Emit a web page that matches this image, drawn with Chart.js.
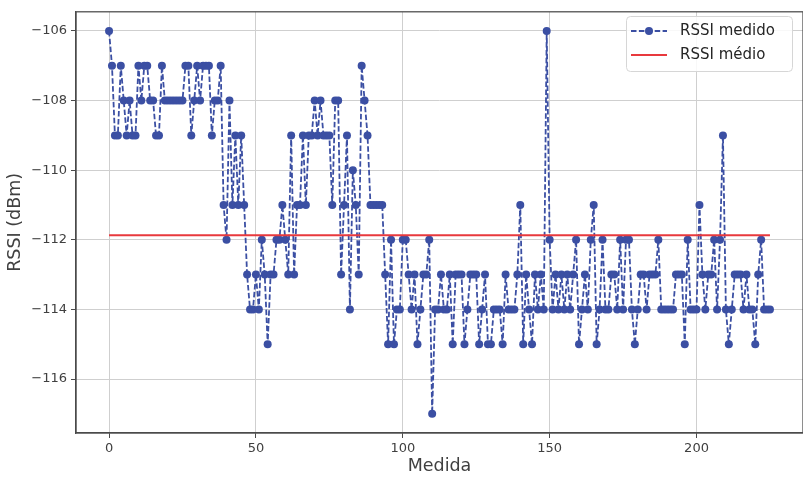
<!DOCTYPE html>
<html>
<head>
<meta charset="utf-8">
<script src="https://cdn.jsdelivr.net/npm/chart.js@4.4.0/dist/chart.umd.min.js"></script>
<style>
  html, body { margin: 0; padding: 0; background: #fff; }
  #wrap { width: 803px; height: 477px; position: relative; }
</style>
</head>
<body>
<div id="wrap"><canvas id="rssi_chart"></canvas></div>
<script>
// RSSI lido em cada medida (dBm)
const rssi = [
  -106, -107, -109, -109, -107, -108, -109, -108, -109, -109,
  -107, -108, -107, -107, -108, -108, -109, -109, -107, -108,
  -108, -108, -108, -108, -108, -108, -107, -107, -109, -108,
  -107, -108, -107, -107, -107, -109, -108, -108, -107, -111,
  -112, -108, -111, -109, -111, -109, -111, -113, -114, -114,
  -113, -114, -112, -113, -115, -113, -113, -112, -112, -111,
  -112, -113, -109, -113, -111, -111, -109, -111, -109, -109,
  -108, -109, -108, -109, -109, -109, -111, -108, -108, -113,
  -111, -109, -114, -110, -111, -113, -107, -108, -109, -111,
  -111, -111, -111, -111, -113, -115, -112, -115, -114, -114,
  -112, -112, -113, -114, -113, -115, -114, -113, -113, -112,
  -117, -114, -114, -113, -114, -114, -113, -115, -113, -113,
  -113, -115, -114, -113, -113, -113, -115, -114, -113, -115,
  -115, -114, -114, -114, -115, -113, -114, -114, -114, -113,
  -111, -115, -113, -114, -115, -113, -114, -113, -114, -106,
  -112, -114, -113, -114, -113, -114, -113, -114, -113, -112,
  -115, -114, -113, -114, -112, -111, -115, -114, -112, -114,
  -114, -113, -113, -114, -112, -114, -112, -112, -114, -115,
  -114, -113, -113, -114, -113, -113, -113, -112, -114, -114,
  -114, -114, -114, -113, -113, -113, -115, -112, -114, -114,
  -114, -111, -113, -114, -113, -113, -112, -114, -112, -109,
  -114, -115, -114, -113, -113, -113, -114, -113, -114, -114,
  -115, -113, -112, -114, -114, -114
]
const rssiMedio = [-111.87]
const xTicks = [0, 50, 100, 150, 200]
const yTicks = [-116, -114, -112, -110, -108, -106]

const blue = '#3b4fa3'
const red = '#e8393d'
const font = "'DejaVu Sans', sans-serif"

const medidos = rssi.map((v, i) => ({x: i, y: v}))
const medio = [{x: 0, y: rssiMedio[0]}, {x: rssi.length - 1, y: rssiMedio[0]}]

/**
 * moldura do grafico (spines)
 */
const frame = {
  id: 'frame',
  afterDatasetsDraw(chart) {
    const a = chart.chartArea
    const ctx = chart.ctx
    ctx.save()
    ctx.strokeStyle = '#4a4a4a'
    ctx.lineWidth = 1.25
    ctx.strokeRect(a.left, a.top, a.right - a.left, a.bottom - a.top)
    ctx.restore()
  }
}

/**
 * legenda dentro da area, canto superior direito
 */
const legendBox = {
  id: 'legendBox',
  afterDraw(chart) {
    const ctx = chart.ctx
    ctx.save()
    const x0 = 626.5, y0 = 16.5, w = 166, h = 55, r = 4
    ctx.beginPath()
    ctx.roundRect(x0, y0, w, h, r)
    ctx.fillStyle = 'rgba(255,255,255,0.85)'
    ctx.fill()
    ctx.strokeStyle = '#d6d6d6'
    ctx.lineWidth = 1
    ctx.stroke()

    // RSSI medido
    ctx.strokeStyle = blue
    ctx.lineWidth = 2
    ctx.setLineDash([5.5, 2.4])
    ctx.beginPath()
    ctx.moveTo(631, 31)
    ctx.lineTo(667, 31)
    ctx.stroke()
    ctx.setLineDash([])
    ctx.fillStyle = blue
    ctx.beginPath()
    ctx.arc(649, 31, 4, 0, Math.PI * 2)
    ctx.fill()

    // RSSI médio
    ctx.strokeStyle = red
    ctx.lineWidth = 2
    ctx.beginPath()
    ctx.moveTo(631, 55)
    ctx.lineTo(667, 55)
    ctx.stroke()

    ctx.fillStyle = '#262626'
    ctx.font = "15px " + font
    ctx.textBaseline = 'middle'
    ctx.textAlign = 'left'
    ctx.fillText('RSSI medido', 680, 31)
    ctx.fillText('RSSI médio', 680, 55)
    ctx.restore()
  }
}

const rssiChart = new Chart(document.getElementById('rssi_chart').getContext('2d'), {
  type: 'line',
  data: {
    datasets: [{
      label: 'RSSI medido',
      data: medidos,
      borderColor: blue,
      backgroundColor: blue,
      borderWidth: 1.8,
      borderDash: [5.5, 2.4],
      pointRadius: 4,
      pointBorderWidth: 0,
      pointBackgroundColor: blue,
      fill: false,
      tension: 0,
      order: 2
    },
    {
      label: 'RSSI médio',
      data: medio,
      borderColor: red,
      borderWidth: 2,
      pointRadius: 0,
      fill: false,
      order: 1
    }]
  },
  options: {
    responsive: true,
    maintainAspectRatio: false,
    animation: false,
    layout: { autoPadding: false, padding: { top: 8, right: 0, left: 0, bottom: 0 } },
    plugins: {
      legend: { display: false },
      tooltip: { enabled: false }
    },
    scales: {
      x: {
        type: 'linear',
        min: -11.25,
        max: 236.25,
        afterBuildTicks: (axis) => { axis.ticks = xTicks.map(v => ({value: v})) },
        afterFit: (axis) => { axis.height = 44 },
        ticks: {
          color: '#404040',
          padding: 3,
          maxRotation: 0,
          font: { family: font, size: 13 }
        },
        grid: { color: '#cfcfcf', lineWidth: 1, tickLength: 5, tickColor: '#4a4a4a' },
        border: { display: true, color: '#4a4a4a', width: 1.25 },
        title: {
          display: true,
          text: 'Medida',
          color: '#404040',
          padding: { top: 0, bottom: 0 },
          font: { family: font, size: 17.5 }
        }
      },
      y: {
        type: 'linear',
        min: -117.55,
        max: -105.45,
        afterBuildTicks: (axis) => { axis.ticks = yTicks.map(v => ({value: v})) },
        afterFit: (axis) => { axis.width = 76 },
        ticks: {
          color: '#404040',
          padding: 4,
          font: { family: font, size: 13 },
          callback: (v) => (v < 0 ? '\u2212' : '') + Math.abs(v)
        },
        grid: { color: '#cfcfcf', lineWidth: 1, tickLength: 5, tickColor: '#4a4a4a' },
        border: { display: true, color: '#4a4a4a', width: 1.25 },
        title: {
          display: true,
          text: 'RSSI (dBm)',
          color: '#404040',
          padding: { top: 5, bottom: 0 },
          font: { family: font, size: 17.5 }
        }
      }
    }
  },
  plugins: [frame, legendBox]
})
</script>
</body>
</html>
